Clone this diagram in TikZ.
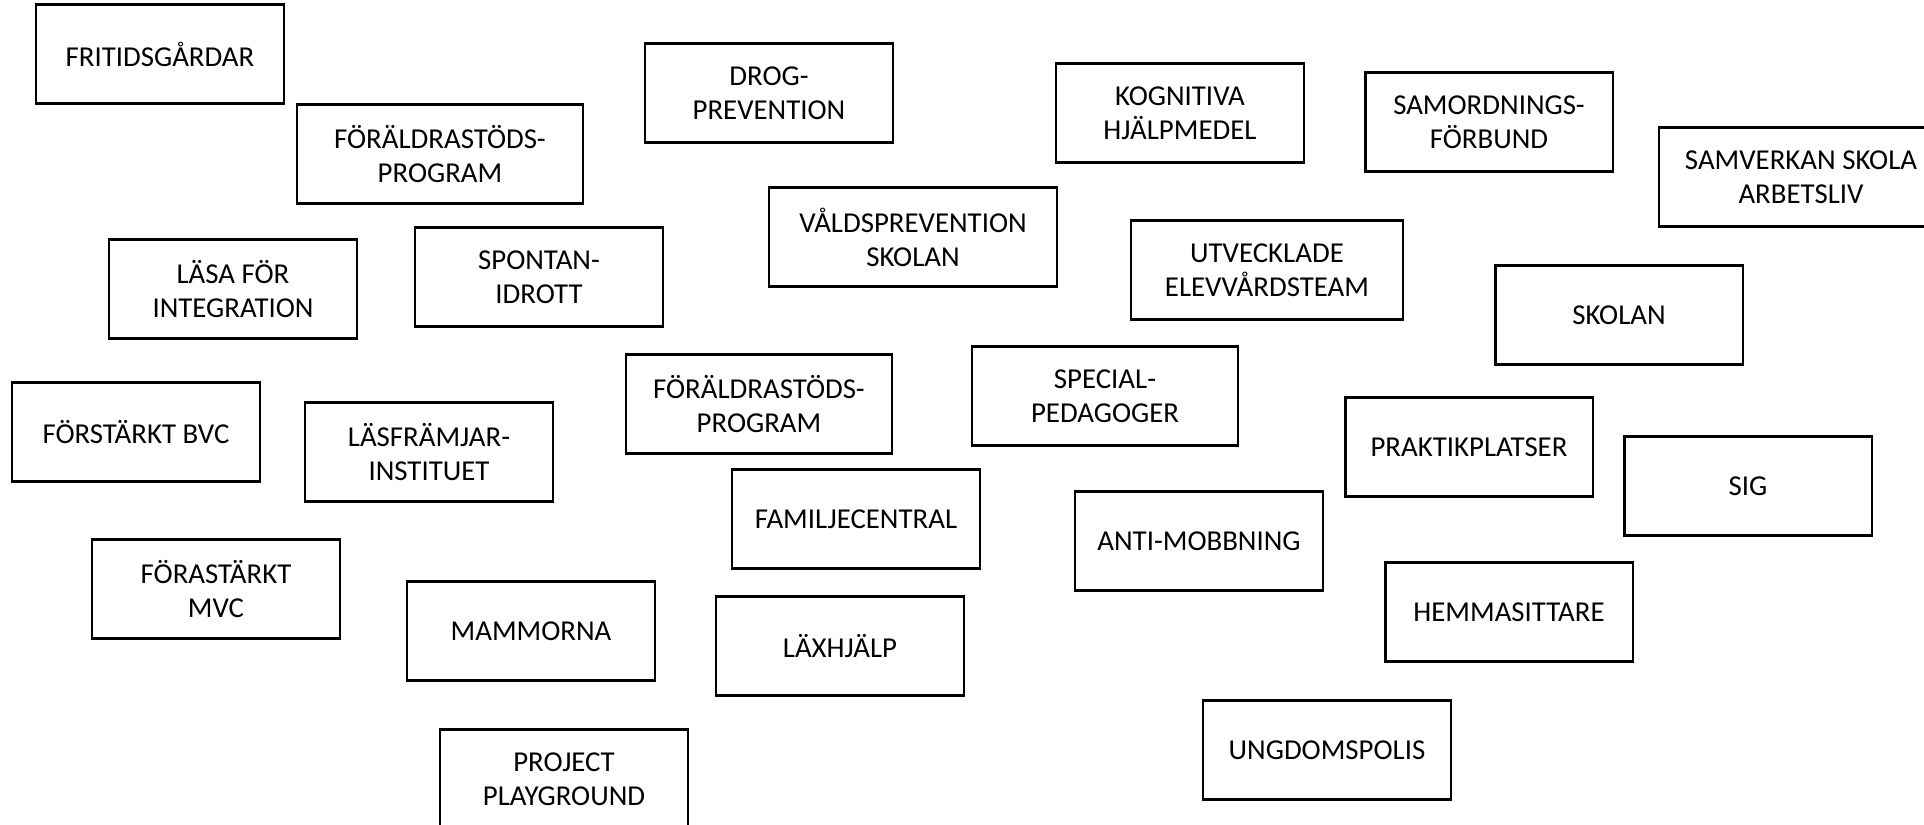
\documentclass[tikz,border=0pt]{standalone}
\usepackage{fontspec}
\setmainfont{Carlito}
\usetikzlibrary{positioning}

\begin{document}
\begin{tikzpicture}[x=0.01cm, y=-0.01cm,
    font=\fontsize{8.2}{9.7}\selectfont,
    box/.style={draw, black, line width=0.6pt, align=center, inner sep=0pt,
                minimum width=2.47cm, minimum height=0.99cm}]
    % canvas
    \clip (0,0) rectangle (1924,825);
    \fill[white] (0,0) rectangle (1924,825);

    % left column
    \node[box] (fritid)   at (160,54)  {FRITIDSGÅRDAR};
    \node[box] (lasa)     at (233,289) {LÄSA FÖR\\INTEGRATION};
    \node[box] (bvc)      at (136,432) {FÖRSTÄRKT BVC};
    \node[box] (mvc)      at (216,589) {FÖRASTÄRKT\\MVC};

    % second column
    \node[box, minimum width=2.85cm] (foraldraA) at (440,154) {FÖRÄLDRASTÖDS-\\PROGRAM};
    \node[box] (spontan)  at (539,277) {SPONTAN-\\IDROTT};
    \node[box] (lasfram)  at (429,452) {LÄSFRÄMJAR-\\INSTITUET};
    \node[box] (mammorna) at (531,631) {MAMMORNA};
    \node[box] (project)  at (564,779) {PROJECT\\PLAYGROUND};

    % middle
    \node[box] (drog)     at (769,93)  {DROG-\\PREVENTION};
    \node[box, minimum width=2.88cm] (vald) at (913,237) {VÅLDSPREVENTION\\SKOLAN};
    \node[box, minimum width=2.65cm] (foraldraB) at (759,404) {FÖRÄLDRASTÖDS-\\PROGRAM};
    \node[box] (familje)  at (856,519) {FAMILJECENTRAL};
    \node[box] (laxhjalp) at (840,646) {LÄXHJÄLP};

    % centre right
    \node[box] (kognitiva) at (1180,113) {KOGNITIVA\\HJÄLPMEDEL};
    \node[box, minimum width=2.72cm] (utveckl) at (1267,270) {UTVECKLADE\\ELEVVÅRDSTEAM};
    \node[box, minimum width=2.65cm] (special) at (1105,396) {SPECIAL-\\PEDAGOGER};
    \node[box] (anti)     at (1199,541) {ANTI-MOBBNING};
    \node[box] (ungdom)   at (1327,750) {UNGDOMSPOLIS};

    % right
    \node[box] (samord)   at (1489,122) {SAMORDNINGS-\\FÖRBUND};
    \node[box, minimum width=2.84cm] (samverkan) at (1801,177) {SAMVERKAN SKOLA\\ARBETSLIV};
    \node[box] (skolan)   at (1619,315) {SKOLAN};
    \node[box] (praktik)  at (1469,447) {PRAKTIKPLATSER};
    \node[box] (sig)      at (1748,486) {SIG};
    \node[box] (hemma)    at (1509,612) {HEMMASITTARE};
\end{tikzpicture}
\end{document}
